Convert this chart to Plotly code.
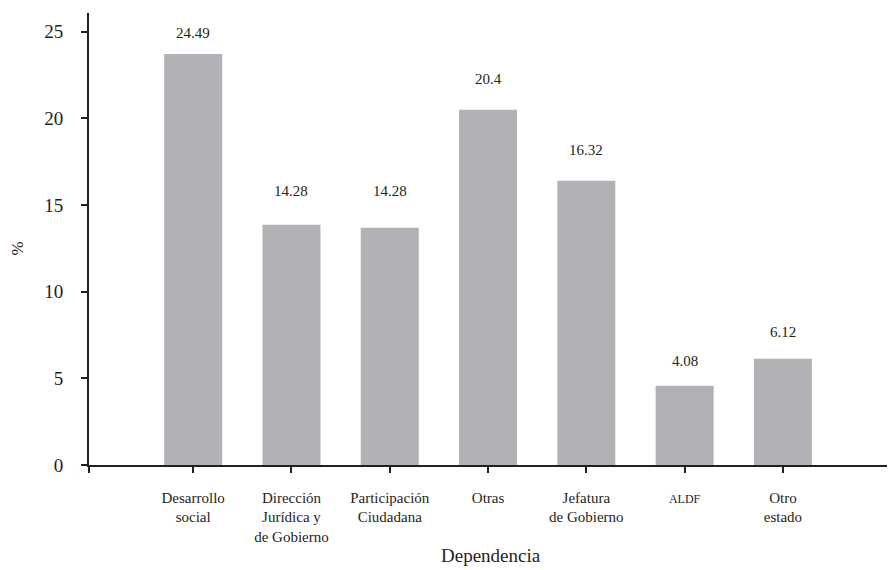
import plotly.graph_objects as go

# ---- data ----
categories = ["Desarrollo<br>social", "Dirección<br>Jurídica y<br>de Gobierno",
              "Participación<br>Ciudadana", "Otras", "Jefatura<br>de Gobierno",
              "ALDF", "Otro<br>estado"]
bar_values = [23.70, 13.86, 13.69, 20.49, 16.40, 4.57, 6.13]   # drawn bar heights
value_labels = ["24.49", "14.28", "14.28", "20.4", "16.32", "4.08", "6.12"]
y_tick_values = [0, 5, 10, 15, 20, 25]
x_title = "Dependencia"
y_title = "%"

# ---- style ----
FONT = "Liberation Serif, Times New Roman, serif"
INK = "#231f20"
BAR = "#b1b2b5"
label_shift_px = [21, 34, 37, 31, 31, 25, 27]


def tick_text(c):
    if c == "ALDF":
        return "<span style='font-size:12px'>ALDF</span>"
    return c


xs = list(range(len(categories)))

fig = go.Figure()
fig.add_trace(go.Bar(
    x=xs, y=bar_values, width=0.59,
    marker=dict(color=BAR, line=dict(width=0)),
    hoverinfo="skip",
))

for i, (v, t) in enumerate(zip(bar_values, value_labels)):
    fig.add_annotation(x=xs[i], y=v, text=t, showarrow=False,
                       xanchor="center", yanchor="middle",
                       yshift=label_shift_px[i],
                       font=dict(family=FONT, size=15, color=INK))

# axis titles as annotations
fig.add_annotation(xref="paper", yref="paper", x=0.5, y=-0.2, text=x_title,
                   showarrow=False, xanchor="center", yanchor="middle",
                   font=dict(family=FONT, size=19, color=INK))
fig.add_annotation(xref="paper", yref="paper", x=-0.089, y=0.48, text=y_title,
                   showarrow=False, xanchor="center", yanchor="middle",
                   textangle=-90,
                   font=dict(family=FONT, size=17, color=INK))

x_left = -1.056
# page body has an 8px default margin, so the figure is sized to fit the window
fig.update_layout(
    width=887, height=562,
    margin=dict(l=81, r=2, t=5, b=105, autoexpand=False),
    paper_bgcolor="white", plot_bgcolor="white",
    showlegend=False,
    font=dict(family=FONT, color=INK),
    xaxis=dict(
        range=[x_left - 0.004, 7.12],
        tickmode="array",
        tickvals=[x_left] + xs,
        ticktext=[""] + [tick_text(c) for c in categories],
        ticks="outside", ticklen=6, tickwidth=1.6, tickcolor=INK,
        showline=True, linecolor=INK, linewidth=1.8,
        showgrid=False, zeroline=False, automargin=False,
        tickfont=dict(family=FONT, size=15, color=INK),
        ticklabelstandoff=12,
    ),
    yaxis=dict(
        range=[0, 26.07],
        tickmode="array", tickvals=y_tick_values,
        ticks="outside", ticklen=6, tickwidth=1.6, tickcolor=INK,
        showline=True, linecolor=INK, linewidth=1.8,
        showgrid=False, zeroline=False, automargin=False,
        tickfont=dict(family=FONT, size=19, color=INK),
        ticklabelstandoff=14,
    ),
)

fig.write_html("out.html")
